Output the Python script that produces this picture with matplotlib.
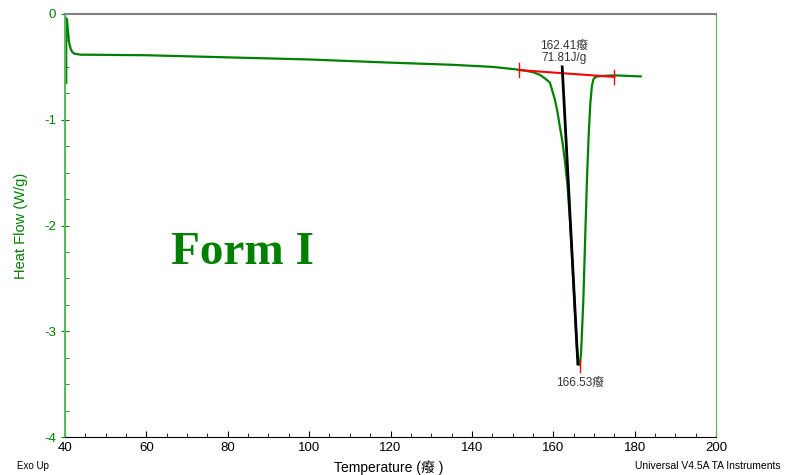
import numpy as np
import matplotlib.pyplot as plt
from matplotlib.ticker import MultipleLocator

# curve
temp = [40.3, 40.3, 40.5, 40.7, 41.0, 41.4, 41.8, 42.3, 43.0, 44.0, 46.0, 60.0, 80.0, 100.0, 120.0,
        135.0, 145.0, 150.0, 153.0, 155.0, 156.7, 158.0, 159.2, 160.4, 161.0, 161.65, 162.3,
        162.9, 163.5, 164.1, 164.7, 165.3, 165.8, 166.2, 166.53, 166.85, 167.4, 167.9, 168.3,
        168.7, 169.1, 169.5, 169.9, 170.4, 171.0, 172.5, 175.0, 178.0, 181.5]
heat = [-0.65, -0.04, -0.06, -0.15, -0.27, -0.33, -0.36, -0.375, -0.38, -0.385, -0.385, -0.39,
        -0.41, -0.43, -0.46, -0.48, -0.50, -0.52, -0.535, -0.55, -0.575, -0.61, -0.65, -0.81,
        -0.92, -1.07, -1.22, -1.40, -1.62, -1.95, -2.35, -2.80, -3.15, -3.30, -3.32, -3.20,
        -2.70, -2.05, -1.55, -1.15, -0.85, -0.68, -0.615, -0.595, -0.59, -0.585, -0.58, -0.585,
        -0.59]

# analysis marks
base_t = [151.5, 175.0]
base_h = [-0.53, -0.595]
tang_t = [162.2, 166.05]
tang_h = [-0.50, -3.31]
onset = 162.41
enthalpy = 71.81
peak_t = 166.53
peak_h = -3.32

plt.rcParams['font.family'] = ['Liberation Sans', 'Noto Sans CJK SC']

green = '#008000'
lgreen = '#5cb85c'

fig = plt.figure(figsize=(7.87, 4.75), dpi=100)
ax = fig.add_axes([65 / 787, 1 - 437 / 475, (716 - 65) / 787, (437 - 14) / 475])

ax.plot(temp, heat, color=green, lw=1.6)
ax.plot(base_t, base_h, color='red', lw=1.5)
ax.plot(tang_t, tang_h, color='black', lw=2)
for t, h in zip(base_t, base_h):
    ax.plot([t, t], [h - 0.07, h + 0.07], color='red', lw=1)
ax.plot([peak_t, peak_t], [peak_h + 0.05, peak_h - 0.07], color='red', lw=1)

ax.text(onset + 0.3, -0.47, f'{onset}癈\n{enthalpy}J/g', ha='center', va='bottom',
        fontsize=8.5, color='#333333', linespacing=1.0)
ax.text(peak_t, -3.43, f'{peak_t}癈', ha='center', va='top', fontsize=8.5, color='#333333')

ax.text(0.163, 0.435, 'Form I', transform=ax.transAxes, fontsize=34, fontweight='bold',
        family='Liberation Serif', color=green, ha='left', va='center')

ax.set_xlim(40, 200)
ax.set_ylim(-4, 0)
ax.xaxis.set_major_locator(MultipleLocator(20))
ax.xaxis.set_minor_locator(MultipleLocator(5))
ax.yaxis.set_major_locator(MultipleLocator(1))
ax.yaxis.set_minor_locator(MultipleLocator(0.25))
ax.tick_params(axis='both', which='both', direction='in', labelsize=9.5)
ax.tick_params(axis='x', which='major', length=4, colors='black')
ax.tick_params(axis='x', which='minor', length=3)
ax.tick_params(axis='y', which='major', direction='inout', length=6, color=green, labelcolor=green)
ax.tick_params(axis='y', which='minor', length=3, color=green)
ax.set_yticks([0, -1, -2, -3, -4])
ax.set_yticklabels(['0', '-1', '-2', '-3', '-4'])

ax.spines['left'].set_color(lgreen)
ax.spines['left'].set_linewidth(1.5)
ax.spines['right'].set_color(lgreen)
ax.spines['top'].set_color('#808080')
ax.spines['top'].set_linewidth(1.5)
ax.spines['bottom'].set_color('black')

ax.set_ylabel('Heat Flow (W/g)', color=green, fontsize=10.5)
ax.yaxis.set_label_coords(-0.057, 0.5)
fig.text(0.494, 0.0, 'Temperature (癈 )', ha='center', va='bottom', fontsize=10)
fig.text(0.022, 0.008, 'Exo Up', ha='left', va='bottom', fontsize=7)
fig.text(0.992, 0.008, 'Universal V4.5A TA Instruments', ha='right', va='bottom', fontsize=7.5)

fig.savefig('out.png', dpi=100)
